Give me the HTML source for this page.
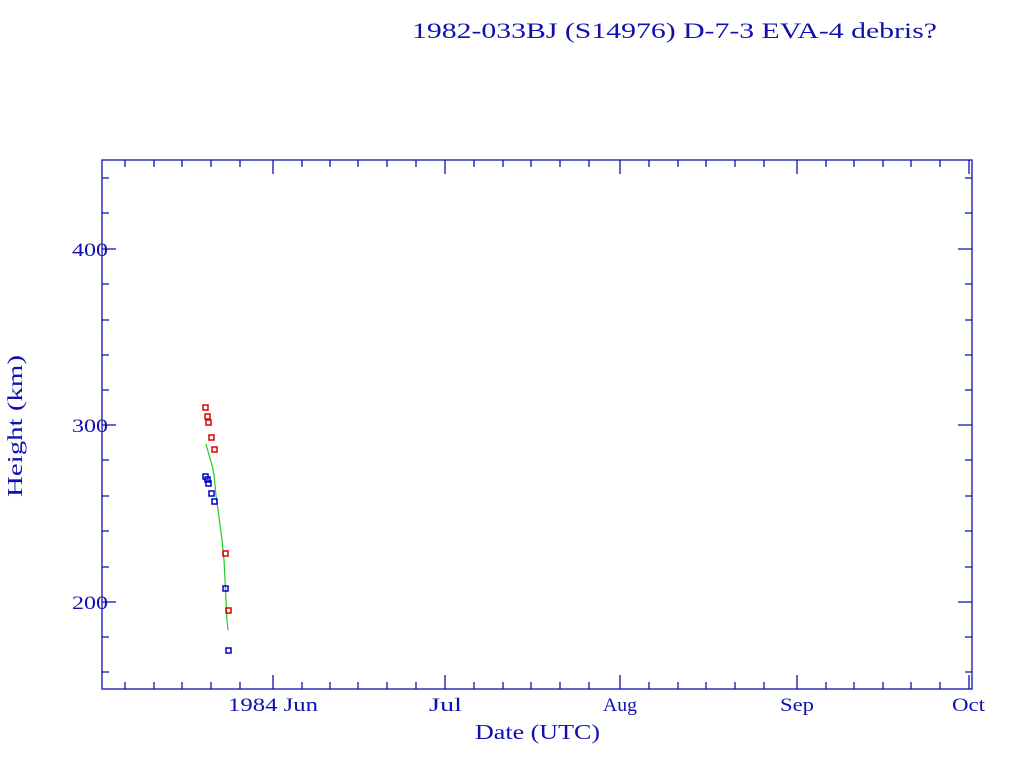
<!DOCTYPE html>
<html><head><style>html,body{margin:0;padding:0;background:#fff}svg{display:block}</style></head><body>
<svg width="1024" height="768" xmlns="http://www.w3.org/2000/svg" font-family="Liberation Serif, serif" fill="#1010b0">
<text x="412" y="38" font-size="22" textLength="525" lengthAdjust="spacingAndGlyphs">1982-033BJ (S14976) D-7-3 EVA-4 debris?</text>
<rect x="102" y="160" width="870" height="529" fill="none" stroke="#1010b0" stroke-width="1.3"/>
<g stroke="#1010b0" stroke-width="1.3">
<!-- x major ticks -->
<path d="M273,689v-14M445,689v-14M620,689v-14M797,689v-14M969,689v-14M273,160v14M445,160v14M620,160v14M797,160v14M969,160v14"/>
<!-- x minor ticks -->
<path d="M125,689v-7M154,689v-7M182,689v-7M211,689v-7M240,689v-7M302,689v-7M330,689v-7M358,689v-7M387,689v-7M416,689v-7M474,689v-7M503,689v-7M531,689v-7M560,689v-7M589,689v-7M649,689v-7M678,689v-7M706,689v-7M735,689v-7M764,689v-7M826,689v-7M854,689v-7M883,689v-7M911,689v-7M940,689v-7
M125,160v7M154,160v7M182,160v7M211,160v7M240,160v7M302,160v7M330,160v7M358,160v7M387,160v7M416,160v7M474,160v7M503,160v7M531,160v7M560,160v7M589,160v7M649,160v7M678,160v7M706,160v7M735,160v7M764,160v7M826,160v7M854,160v7M883,160v7M911,160v7M940,160v7"/>
<!-- y major -->
<path d="M102,249h14M102,425h14M102,602h14M972,249h-14M972,425h-14M972,602h-14"/>
<!-- y minor -->
<path d="M102,178h7M102,213h7M102,284h7M102,320h7M102,355h7M102,390h7M102,460h7M102,496h7M102,531h7M102,567h7M102,637h7M102,672h7
M972,178h-7M972,213h-7M972,284h-7M972,320h-7M972,355h-7M972,390h-7M972,460h-7M972,496h-7M972,531h-7M972,567h-7M972,637h-7M972,672h-7"/>
</g>
<g font-size="19">
<text x="72" y="256" textLength="36" lengthAdjust="spacingAndGlyphs">400</text>
<text x="72" y="432" textLength="36" lengthAdjust="spacingAndGlyphs">300</text>
<text x="72" y="609" textLength="36" lengthAdjust="spacingAndGlyphs">200</text>
<text x="228" y="711" textLength="90" lengthAdjust="spacingAndGlyphs">1984 Jun</text>
<text x="429" y="711" textLength="33" lengthAdjust="spacingAndGlyphs">Jul</text>
<text x="603" y="711" textLength="34" lengthAdjust="spacingAndGlyphs">Aug</text>
<text x="780" y="711" textLength="34" lengthAdjust="spacingAndGlyphs">Sep</text>
<text x="952" y="711" textLength="33" lengthAdjust="spacingAndGlyphs">Oct</text>
</g>
<text x="475" y="739" font-size="21" textLength="125" lengthAdjust="spacingAndGlyphs">Date (UTC)</text>
<text transform="translate(22,497) rotate(-90)" font-size="21" textLength="142" lengthAdjust="spacingAndGlyphs">Height (km)</text>
<polyline fill="none" stroke="#22cc22" stroke-width="1.2" points="206,444 209,455 212,465 214,475 216,495 218,510 220,525 222,540 224,560 225,580 226,600 227,620 228,630"/>
<g fill="none" stroke="#dd0000" stroke-width="1.5">
<rect x="203" y="405" width="5" height="5"/><rect x="205" y="414" width="5" height="5"/><rect x="206" y="420" width="5" height="5"/><rect x="209" y="435" width="5" height="5"/><rect x="212" y="447" width="5" height="5"/><rect x="223" y="551" width="5" height="5"/><rect x="226" y="608" width="5" height="5"/>
</g>
<g fill="none" stroke="#0000cc" stroke-width="1.5">
<rect x="203" y="474" width="5" height="5"/><rect x="205" y="477" width="5" height="5"/><rect x="206" y="481" width="5" height="5"/><rect x="209" y="491" width="5" height="5"/><rect x="212" y="499" width="5" height="5"/><rect x="223" y="586" width="5" height="5"/><rect x="226" y="648" width="5" height="5"/>
</g>
</svg>
</body></html>
